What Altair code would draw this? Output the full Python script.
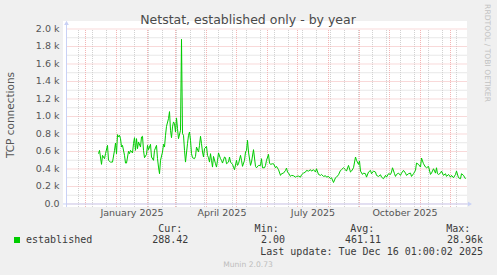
import altair as alt
import pandas as pd

# ---------------- data ----------------
START = "2024-12-01"  # day 0 of the offsets below
DAY = [13, 14, 16, 17, 19, 20, 22, 23, 25, 27, 29, 30, 31, 32, 33, 34, 35, 36, 37, 39,
       40, 41, 43, 44, 45, 47, 48, 49, 50, 51, 52, 53, 55, 56, 57, 58, 59, 61, 62, 63,
       65, 66, 68, 69, 71, 72, 73, 74, 75, 77, 78, 79, 80, 81, 83, 84, 85, 86, 87, 88,
       89, 90, 91, 92, 93, 95, 96, 97, 98, 99, 100, 102, 103, 104, 105, 106, 107, 109, 110, 111,
       113, 114, 115, 116, 117, 118, 119, 121, 122, 123, 124, 125, 126, 127, 128, 130, 131, 132, 133, 135,
       136, 137, 139, 140, 141, 143, 144, 145, 147, 148, 149, 151, 152, 153, 155, 156, 157, 159, 160, 161,
       162, 163, 165, 166, 168, 170, 171, 173, 175, 176, 177, 179, 180, 181, 183, 184, 185, 187, 188, 190,
       191, 193, 195, 196, 198, 200, 201, 202, 203, 205, 206, 208, 210, 211, 213, 215, 216, 218, 220, 221,
       223, 225, 226, 228, 230, 231, 233, 235, 236, 238, 240, 241, 243, 245, 246, 248, 250, 251, 253, 255,
       256, 258, 260, 261, 263, 265, 266, 268, 270, 271, 273, 274, 275, 277, 278, 280, 281, 283, 285, 286,
       288, 290, 291, 293, 295, 296, 298, 300, 301, 303, 305, 306, 307, 309, 310, 311, 313, 315, 316, 318,
       320, 321, 323, 325, 326, 328, 330, 331, 333, 335, 336, 338, 340, 341, 343, 345, 346, 348, 350, 351,
       352, 353, 355, 356, 358, 360, 361, 363, 365, 366, 368, 370, 371, 373, 375, 376, 378, 380]
CONN = [575, 613, 453, 556, 518, 575, 670, 499, 479, 479, 613, 697, 575, 793, 766, 785, 747, 651, 670, 556,
        468, 468, 602, 575, 613, 583, 690, 758, 613, 747, 632, 709, 651, 766, 774, 613, 529, 567, 670, 621,
        682, 537, 499, 613, 670, 518, 422, 346, 499, 594, 682, 651, 785, 888, 976, 1056, 842, 758, 881, 938,
        919, 823, 984, 862, 747, 842, 1882, 804, 785, 613, 479, 690, 785, 823, 728, 575, 529, 518, 544, 651,
        594, 670, 774, 690, 594, 537, 632, 659, 556, 529, 479, 575, 499, 422, 544, 460, 422, 499, 583, 518,
        499, 468, 537, 529, 460, 479, 537, 479, 453, 422, 392, 499, 441, 460, 556, 499, 430, 499, 594, 613,
        728, 594, 441, 479, 621, 430, 414, 441, 441, 518, 414, 414, 441, 499, 567, 468, 453, 460, 460, 414,
        430, 392, 327, 346, 353, 384, 411, 365, 353, 315, 327, 323, 307, 315, 319, 307, 334, 353, 365, 384,
        376, 392, 376, 392, 365, 403, 338, 327, 338, 315, 323, 307, 315, 289, 300, 246, 300, 307, 334, 384,
        392, 414, 392, 376, 441, 365, 376, 414, 537, 499, 453, 491, 376, 338, 353, 346, 307, 365, 384, 346,
        376, 365, 327, 315, 334, 307, 289, 327, 307, 346, 338, 365, 414, 346, 315, 338, 353, 327, 353, 384,
        353, 327, 346, 353, 315, 346, 384, 468, 453, 422, 525, 460, 422, 414, 430, 338, 353, 403, 353, 414,
        346, 338, 353, 376, 327, 346, 315, 338, 307, 327, 300, 338, 376, 300, 289, 346, 327, 288]

Y_TICKS = [0, 200, 400, 600, 800, 1000, 1200, 1400, 1600, 1800, 2000]
Y_LABELS = ["0.0", "0.2 k", "0.4 k", "0.6 k", "0.8 k", "1.0 k", "1.2 k", "1.4 k", "1.6 k", "1.8 k", "2.0 k"]
Y_MINOR = [100, 300, 500, 700, 900, 1100, 1300, 1500, 1700, 1900]
X_LABEL_AT = ["2025-01-16T12:00:00", "2025-04-16T12:00:00", "2025-07-16T12:00:00", "2025-10-16T12:00:00"]
X_LABELS = ["January 2025", "April 2025", "July 2025", "October 2025"]
LEGEND_HEAD = ["Cur:", "Min:", "Avg:", "Max:"]
LEGEND_VALS = ["288.42", "2.00", "461.11", "28.96k"]
SERIES = "established"
TITLE = "Netstat, established only - by year"
YTITLE = "TCP connections"
UPDATE = "Last update: Tue Dec 16 01:00:02 2025"

# ---------------- frames ----------------
fmt = "%Y-%m-%dT%H:%M:%S"
dates = (pd.Timestamp(START) + pd.to_timedelta(DAY, unit="D")).strftime(fmt)
df = pd.DataFrame({"date": dates, "v": CONN})

G0, G1 = "2024-11-12T00:00:00", "2025-12-17T12:00:00"
major_x = pd.date_range("2024-12-01", "2025-12-01", freq="MS").strftime(fmt)
minor_x = pd.date_range("2024-11-24", "2025-12-14", freq="14D").strftime(fmt)

PL, PT, W, H = 63, 21, 404, 186
xs = alt.Scale(domain=[alt.DateTime(year=2024, month=11, date=8, hours=12),
                       alt.DateTime(year=2025, month=12, date=17, hours=12)])
ys = alt.Scale(domain=[-34.3, 2091.4], nice=False, zero=False)

RED = "#f3b3b3"
GREY = "#d0d0d0"
AXC = "#c9d1f5"
TXT = "#555555"
DARK = "#3a3a3a"

def hgrid(vals, color):
    d = pd.DataFrame({"v": vals, "a": G0, "b": G1})
    return alt.Chart(d).mark_rule(color=color, strokeWidth=1, strokeDash=[1, 1]).encode(
        x=alt.X("a:T", scale=xs, axis=None), x2="b:T", y=alt.Y("v:Q", scale=ys, axis=None))

def vgrid(vals, color):
    d = pd.DataFrame({"d": vals, "lo": -34.0, "hi": 2000.0})
    return alt.Chart(d).mark_rule(color=color, strokeWidth=1, strokeDash=[1, 1]).encode(
        x=alt.X("d:T", scale=xs, axis=None), y=alt.Y("lo:Q", scale=ys, axis=None), y2="hi:Q")

def label(text, X, Y, size, color, font="DejaVu Sans", align="left", angle=0, baseline="alphabetic"):
    return alt.Chart(pd.DataFrame({"t": [text]})).mark_text(
        font=font, fontSize=size, color=color, align=align, angle=angle, baseline=baseline
    ).encode(text="t:N", x=alt.value(X - PL), y=alt.value(Y - PT))

layers = [
    vgrid(list(minor_x), GREY),
    hgrid(Y_MINOR, GREY),
    vgrid(list(major_x), RED),
    hgrid(Y_TICKS, RED),
]

line = alt.Chart(df).mark_line(color="#00cc00", strokeWidth=1).encode(
    x=alt.X("date:T", scale=xs, axis=None), y=alt.Y("v:Q", scale=ys, axis=None))
layers.append(line)

# axis lines with arrows
left_ax = alt.Chart(pd.DataFrame({"d": [G0], "lo": [-34.0], "hi": [2080.0]})).mark_rule(
    color=AXC, strokeWidth=1).encode(x=alt.X("d:T", scale=xs, axis=None),
                                     y=alt.Y("lo:Q", scale=ys, axis=None), y2="hi:Q")
bot_ax = alt.Chart(pd.DataFrame({"a": ["2024-11-08T12:00:00"], "b": ["2025-12-20T12:00:00"], "v": [0]})).mark_rule(
    color=AXC, strokeWidth=1).encode(x=alt.X("a:T", scale=xs, axis=None), x2="b:T",
                                      y=alt.Y("v:Q", scale=ys, axis=None))
up_arrow = alt.Chart(pd.DataFrame({"d": [G0], "v": [2070.0]})).mark_point(
    shape="triangle-up", filled=True, size=22, color=AXC, opacity=1).encode(
    x=alt.X("d:T", scale=xs, axis=None), y=alt.Y("v:Q", scale=ys, axis=None))
right_arrow = alt.Chart(pd.DataFrame({"d": ["2025-12-20T12:00:00"], "v": [0]})).mark_point(
    shape="triangle-right", filled=True, size=22, color=AXC, opacity=1).encode(
    x=alt.X("d:T", scale=xs, axis=None), y=alt.Y("v:Q", scale=ys, axis=None))
layers += [left_ax, bot_ax, up_arrow, right_arrow]

# tick labels
ylab = alt.Chart(pd.DataFrame({"v": Y_TICKS, "t": Y_LABELS})).mark_text(
    font="DejaVu Sans", fontSize=9.5, color=TXT, align="right", baseline="middle").encode(
    y=alt.Y("v:Q", scale=ys, axis=None), x=alt.value(59.5 - PL), text="t:N")
xlab = alt.Chart(pd.DataFrame({"d": X_LABEL_AT, "t": X_LABELS})).mark_text(
    font="DejaVu Sans", fontSize=9.5, color=TXT, align="center", baseline="alphabetic").encode(
    x=alt.X("d:T", scale=xs, axis=None), y=alt.value(216 - PT), text="t:N")
layers += [ylab, xlab]

# titles and side texts
layers.append(label(TITLE, 248, 24, 12.5, "#4a4a4a", align="center"))
layers.append(label(YTITLE, 11, 115, 10.5, TXT, align="center", angle=270, baseline="middle"))
layers.append(label("RRDTOOL / TOBI OETIKER", 487, 53, 7.6, "#c2c2c2", align="center", angle=90, baseline="middle"))
layers.append(label("Munin 2.0.73", 248, 266.5, 7.6, "#bdbdbd", align="center"))

# legend
sq = alt.Chart(pd.DataFrame({"s": [SERIES]})).mark_square(size=36, color="#00cc00", opacity=1).encode(
    x=alt.value(17 - PL), y=alt.value(240 - PT))
layers.append(sq)
MONO = "DejaVu Sans Mono"
layers.append(label(SERIES, 26, 243, 10, DARK, font=MONO))
for t, X in zip(LEGEND_HEAD, [182.3, 278.7, 374.3, 470.3]):
    layers.append(label(t, X, 231.5, 10, DARK, font=MONO, align="right"))
for t, X in zip(LEGEND_VALS, [188.3, 285.0, 381.0, 483.0]):
    layers.append(label(t, X, 243, 10, DARK, font=MONO, align="right"))
layers.append(label(UPDATE, 483.0, 255, 10, DARK, font=MONO, align="right"))

chart = alt.layer(*layers).properties(
    width=W, height=H,
    autosize=alt.AutoSizeParams(type="none"),
    padding={"left": PL, "top": PT, "right": 497 - PL - W, "bottom": 275 - PT - H},
    background="#f0f0f0",
).configure_view(fill="white", strokeWidth=0)

chart.save("out.html", embed_options={"renderer": "svg", "actions": False})
